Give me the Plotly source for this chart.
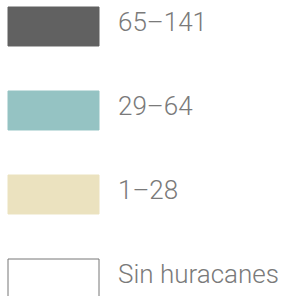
import plotly.graph_objects as go

labels = ["65–141", "29–64", "1–28", "Sin huracanes"]
colors = ["#616161", "#95c3c3", "#ebe2bf", "#ffffff"]
line_colors = ["#616161", "#95c3c3", "#ebe2bf", "#777777"]
positions = [0, 1, 2, 3]
swatch_len = [91, 91, 91, 91]

fig = go.Figure()
fig.add_trace(go.Bar(
    y=positions, x=swatch_len, base=8, orientation="h", width=0.464,
    marker=dict(color=colors, line=dict(color=line_colors, width=1)),
    hoverinfo="skip", showlegend=False,
))
for p, lab in zip(positions, labels):
    fig.add_annotation(x=116, y=p, text=lab, showarrow=False, xanchor="left",
                       yanchor="middle", yshift=5,
                       font=dict(family="Roboto", size=26, weight=300, color="#7a7a7a"))

fig.update_layout(
    width=285, height=296, margin=dict(l=0, r=0, t=0, b=0),
    paper_bgcolor="white", plot_bgcolor="white",
    xaxis=dict(range=[0, 285], visible=False, fixedrange=True),
    yaxis=dict(range=[(296 - 26.5) / 84, -26.5 / 84], visible=False, fixedrange=True),
)
fig.write_html("out.html", config={"displayModeBar": False},
               post_script="document.body.style.margin='0';document.body.style.overflow='hidden';")
